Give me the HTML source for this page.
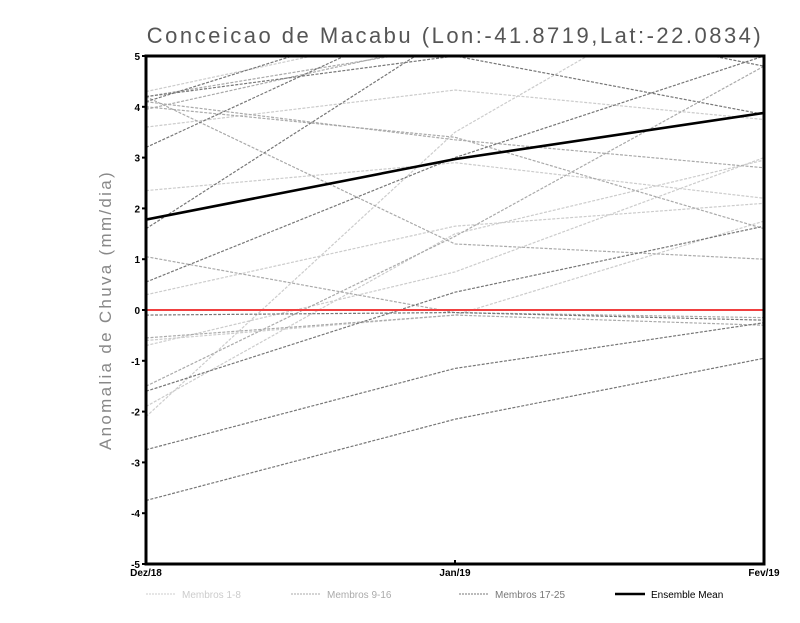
<!DOCTYPE html>
<html><head><meta charset="utf-8"><style>
body{margin:0;background:#fff;width:800px;height:618px;overflow:hidden}
svg{font-family:"Liberation Sans",sans-serif}
</style></head><body>
<svg width="800" height="618">
<text x="455" y="43" text-anchor="middle" font-size="22" fill="#555" letter-spacing="2.5">Conceicao de Macabu (Lon:-41.8719,Lat:-22.0834)</text>
<text transform="translate(111,310) rotate(-90)" text-anchor="middle" font-size="17" fill="#888" letter-spacing="2.3">Anomalia de Chuva (mm/dia)</text>
<defs><clipPath id="c"><rect x="146" y="56" width="618" height="508"/></clipPath></defs>
<g id="series" clip-path="url(#c)"></g>
<g id="axes"></g>
<g id="legend"></g>
</svg>
<script>
const categories=["Dez/18","Jan/19","Fev/19"];
const yTicks=[-5,-4,-3,-2,-1,0,1,2,3,4,5];
const light=[[4.3,5.6,6.5],[3.6,4.33,3.75],[2.35,2.9,2.2],[0.3,1.65,2.1],[-0.7,0.75,3.0],[-2.1,3.5,7],[-1.9,1.5,2.95],[-0.6,-0.1,1.75]];
const medium=[[4.1,3.35,2.8],[4.2,5.2,5.5],[3.95,5.3,5.6],[1.05,-0.05,-0.15],[4.2,1.3,1.0],[-1.5,1.45,4.8],[4.0,3.4,1.6],[-0.55,-0.1,-0.3]];
const dark=[[3.2,6,7],[1.6,5.5,7],[0.55,3.0,5.0],[-1.6,0.35,1.65],[-2.75,-1.15,-0.25],[-3.75,-2.15,-0.95],[4.2,5.0,3.85],[4.1,6.0,4.8],[-0.1,-0.05,-0.2]];
const meanSeries=[1.78,2.97,3.88];
const NS="http://www.w3.org/2000/svg";
const X0=146,X1=764,Y0=56,Y1=564;
const xs=i=>X0+(X1-X0)*i/(categories.length-1);
const ys=v=>Y1-(v+5)/10*(Y1-Y0);
function mk(t,a,p){const e=document.createElementNS(NS,t);for(const k in a)e.setAttribute(k,a[k]);p.appendChild(e);return e;}
const g=document.getElementById('series');
function pts(s){return s.map((v,i)=>xs(i)+','+ys(v)).join(' ');}
[[light,'#cccccc'],[medium,'#aaaaaa'],[dark,'#777777']].forEach(([set,col],gi)=>{
 set.forEach((s,i)=>{const e=mk('polyline',{points:pts(s),fill:'none',stroke:col,'stroke-width':1.2,'stroke-dasharray':'3,1.5'},g);
 
 });
});
const z=mk('line',{x1:X0,x2:X1,y1:ys(0),y2:ys(0),stroke:'#f04040','stroke-width':2},g);


const m=mk('polyline',{points:pts(meanSeries),fill:'none',stroke:'#000','stroke-width':2.6},g);


const ax=document.getElementById('axes');
const fr=mk('rect',{x:X0,y:Y0,width:X1-X0,height:Y1-Y0,fill:'none',stroke:'#000','stroke-width':3},ax);


yTicks.forEach(v=>{mk('line',{x1:X0-4,x2:X0,y1:ys(v),y2:ys(v),stroke:'#000','stroke-width':2},ax);
 const t=mk('text',{x:X0-6,y:ys(v)+4,'text-anchor':'end','font-size':10,'font-weight':'bold'},ax);t.textContent=v;
 
 });
categories.forEach((c,i)=>{mk('line',{x1:xs(i),x2:xs(i),y1:Y1,y2:Y1-4,stroke:'#000','stroke-width':2},ax);
 const t=mk('text',{x:xs(i),y:Y1+12,'text-anchor':'middle','font-size':10,'font-weight':'bold'},ax);t.textContent=c;
 
 });
const lg=document.getElementById('legend');
[["Membros 1-8",'#cccccc',146,1],["Membros 9-16",'#aaaaaa',291,1],["Membros 17-25",'#777777',459,1],["Ensemble Mean",'#000',615,0]].forEach(([l,c,x,d])=>{
 const a=mk('line',{x1:x,x2:x+30,y1:594,y2:594,stroke:c,'stroke-width':d?1:2.5,'stroke-dasharray':d?'2,1':'none'},lg);
 const t=mk('text',{x:x+36,y:598,'font-size':10,fill:d?c:'#000'},lg);t.textContent=l;
 
 });
</script>
</body></html>
